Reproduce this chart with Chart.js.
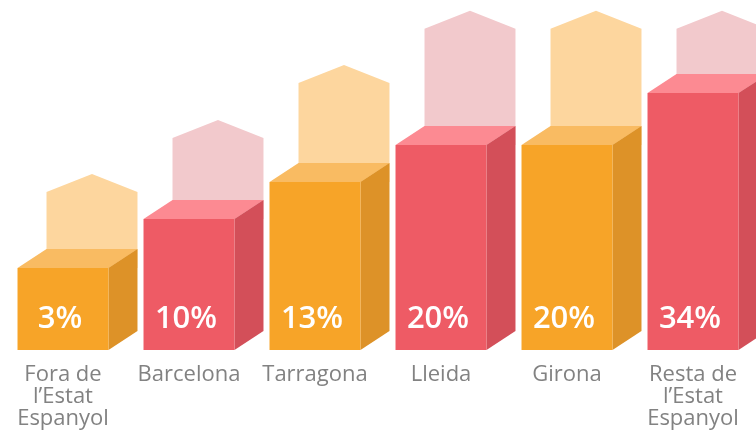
<!DOCTYPE html>
<html>
<head>
<meta charset="utf-8">
<script src="https://cdn.jsdelivr.net/npm/chart.js@4.4.1/dist/chart.umd.min.js"></script>
<style>
  html, body { margin: 0; padding: 0; background: #fff; }
</style>
</head>
<body>
<canvas id="mycanvas" width="756" height="432"></canvas>
<script>
// categories and values
var categories = [
    ['Fora de', 'l\u2019Estat', 'Espanyol'],
    'Barcelona',
    'Tarragona',
    'Lleida',
    'Girona',
    ['Resta de', 'l\u2019Estat', 'Espanyol']
];
var shares = [3, 10, 13, 20, 20, 34];                      // printed percentages
var barLevels = [23.4, 37.4, 48, 58.6, 58.6, 73.4];         // height of the boxes
var houseLevels = [50.3, 65.7, 81.4, 96.9, 96.9, 96.9];     // peak of the pale shapes behind

var palette = {
    orange: { front: '#F7A428', side: '#DD9228', top: '#F9BB62', house: '#FDD69E' },
    red:    { front: '#EE5B65', side: '#D34F59', top: '#FC8A92', house: '#F2C9CC' }
};
var barColors = ['orange', 'red', 'orange', 'red', 'orange', 'red'];

var DX = 29, DY = 19, ROOF = 18;

var boxes = {
    id: 'boxes',
    beforeDatasetsDraw: function(chart) {
        var ctx = chart.ctx;
        var y = chart.scales.y;
        var meta = chart.getDatasetMeta(0);
        meta.data.forEach(function(bar, i) {
            var c = palette[barColors[i]];
            var left = bar.x - bar.width / 2, right = bar.x + bar.width / 2;
            var top = bar.y, base = bar.base;
            var peak = y.getPixelForValue(houseLevels[i]);

            // pale house behind
            ctx.fillStyle = c.house;
            ctx.beginPath();
            ctx.moveTo(left + DX, top);
            ctx.lineTo(left + DX, peak + ROOF);
            ctx.lineTo(bar.x + DX, peak);
            ctx.lineTo(right + DX, peak + ROOF);
            ctx.lineTo(right + DX, top);
            ctx.closePath();
            ctx.fill();

            // top face
            ctx.fillStyle = c.top;
            ctx.beginPath();
            ctx.moveTo(left, top);
            ctx.lineTo(left + DX, top - DY);
            ctx.lineTo(right + DX, top - DY);
            ctx.lineTo(right, top);
            ctx.closePath();
            ctx.fill();

            // side face
            ctx.fillStyle = c.side;
            ctx.beginPath();
            ctx.moveTo(right, top);
            ctx.lineTo(right + DX, top - DY);
            ctx.lineTo(right + DX, base - DY);
            ctx.lineTo(right, base);
            ctx.closePath();
            ctx.fill();
        });
    },
    afterDatasetsDraw: function(chart) {
        var ctx = chart.ctx;
        var meta = chart.getDatasetMeta(0);
        ctx.save();
        ctx.fillStyle = '#ffffff';
        ctx.font = '600 31px "Open Sans"';
        ctx.textAlign = 'center';
        ctx.textBaseline = 'alphabetic';
        meta.data.forEach(function(bar, i) {
            ctx.fillText(shares[i] + '%', bar.x - 3, bar.base - 22);
        });
        ctx.restore();
    }
};

var ctx = document.getElementById('mycanvas');
var myChart = new Chart(ctx, {
    type: 'bar',
    data: {
        labels: categories,
        datasets: [{
            data: barLevels,
            backgroundColor: barColors.map(function(k) { return palette[k].front; }),
            borderWidth: 0,
            barPercentage: 0.722,
            categoryPercentage: 1
        }]
    },
    options: {
        responsive: false,
        animation: false,
        devicePixelRatio: 1,
        layout: { padding: 0 },
        plugins: {
            legend: { display: false },
            tooltip: { enabled: false }
        },
        scales: {
            x: {
                grid: { display: false, drawTicks: false },
                border: { display: false },
                ticks: {
                    color: '#828282',
                    font: { family: 'Open Sans', size: 22, lineHeight: 1.0 },
                    padding: 14,
                    autoSkip: false,
                    maxRotation: 0,
                    minRotation: 0
                },
                afterFit: function(scale) { scale.height = 82; }
            },
            y: {
                display: false,
                min: 0,
                max: 100
            }
        }
    },
    plugins: [boxes]
});
</script>
</body>
</html>
